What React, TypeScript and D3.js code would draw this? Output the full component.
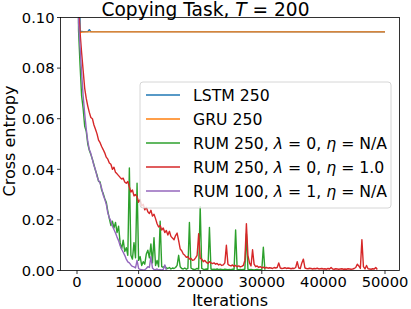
import React from 'react';
import * as d3 from 'd3';

// iterations are logged every 250 steps for the RUM runs
const step = 250;

const lstmIters = [0, 500, 1000, 1750, 2000, 2250, 50000];
const lstmLoss = [0.32, 0.0946, 0.0944, 0.0944, 0.0952, 0.0944, 0.0943];

const gruIters = [0, 400, 750, 1500, 50000];
const gruLoss = [0.32, 0.0938, 0.0942, 0.0943, 0.0943];

const rumGreen = [
  0.32, 0.095, 0.081, 0.069, 0.064, 0.057, 0.055, 0.050, 0.0475, 0.0458,
  0.0440, 0.0418, 0.0395, 0.0378, 0.0352, 0.0350, 0.0318, 0.0305, 0.0285, 0.0270,
  0.0235, 0.0205, 0.0178, 0.0195, 0.0168, 0.0190, 0.0150, 0.0175, 0.0110, 0.0085,
  0.0120, 0.0075, 0.0090, 0.0060, 0.0405, 0.0060, 0.0045, 0.0110, 0.0050, 0.0345,
  0.0040, 0.0055, 0.0020, 0.0035, 0.0025, 0.0065, 0.0080, 0.0050, 0.0105, 0.0030,
  0.0130, 0.0020, 0.0040, 0.0015, 0.0195, 0.0015, 0.0012, 0.0018, 0.0010, 0.0008,
  0.0012, 0.0006, 0.0010, 0.0008, 0.0012, 0.0020, 0.0060, 0.0015, 0.0008, 0.0006,
  0.0010, 0.0005, 0.0008, 0.0190, 0.0010, 0.0006, 0.0004, 0.0005, 0.0008, 0.0006,
  0.0252, 0.0008, 0.0005, 0.0004, 0.0006, 0.0005, 0.0170, 0.0006, 0.0004, 0.0005,
  0.0004, 0.0006, 0.0003, 0.0005, 0.0004, 0.0003, 0.0005, 0.0004, 0.0003, 0.0004,
  0.0003, 0.0005, 0.0004, 0.0160, 0.0004, 0.0003, 0.0004, 0.0003, 0.0004, 0.0005,
  0.0145, 0.0005, 0.0003, 0.0004, 0.0003, 0.0002, 0.0003, 0.0004, 0.0002, 0.0003,
  0.0003, 0.0092, 0.0003,
];

const rumRed = [
  0.32, 0.105, 0.094, 0.086, 0.079, 0.072, 0.068, 0.065, 0.0625, 0.0605,
  0.0600, 0.0575, 0.0558, 0.0540, 0.0515, 0.0505, 0.0490, 0.0478, 0.0465, 0.0448,
  0.0440, 0.0425, 0.0420, 0.0400, 0.0408, 0.0388, 0.0382, 0.0375, 0.0368, 0.0362,
  0.0365, 0.0350, 0.0345, 0.0352, 0.0330, 0.0310, 0.0318, 0.0295, 0.0300, 0.0292,
  0.0270, 0.0280, 0.0255, 0.0262, 0.0240, 0.0250, 0.0232, 0.0225, 0.0238, 0.0215,
  0.0222, 0.0205, 0.0185, 0.0172, 0.0178, 0.0160, 0.0168, 0.0150, 0.0158, 0.0140,
  0.0155, 0.0135, 0.0128, 0.0122, 0.0138, 0.0148, 0.0118, 0.0085, 0.0078, 0.0065,
  0.0060, 0.0052, 0.0055, 0.0045, 0.0048, 0.0040, 0.0042, 0.0050, 0.0060, 0.0145,
  0.0048, 0.0045, 0.0035, 0.0040, 0.0032, 0.0028, 0.0035, 0.0030, 0.0027, 0.0030,
  0.0025, 0.0028, 0.0022, 0.0025, 0.0020, 0.0022, 0.0030, 0.0100, 0.0025, 0.0020,
  0.0018, 0.0022, 0.0016, 0.0020, 0.0015, 0.0018, 0.0014, 0.0016, 0.0020, 0.0040,
  0.0185, 0.0060, 0.0030, 0.0018, 0.0082, 0.0025, 0.0015, 0.0018, 0.0012, 0.0015,
  0.0011, 0.0013, 0.0010, 0.0012, 0.0009, 0.0011, 0.0010, 0.0008, 0.0012, 0.0010,
  0.0012, 0.0030, 0.0010, 0.0008, 0.0009, 0.0011, 0.0008, 0.0010, 0.0009, 0.0007,
  0.0009, 0.0008, 0.0012, 0.0035, 0.0010, 0.0008, 0.0030, 0.0045, 0.0010, 0.0008,
  0.0007, 0.0009, 0.0008, 0.0006, 0.0008, 0.0007, 0.0009, 0.0006, 0.0007, 0.0008,
  0.0006, 0.0007, 0.0005, 0.0008, 0.0006, 0.0012, 0.0006, 0.0005, 0.0007, 0.0006,
  0.0005, 0.0006, 0.0007, 0.0005, 0.0006, 0.0005, 0.0007, 0.0006, 0.0005, 0.0006,
  0.0008, 0.0012, 0.0025, 0.0018, 0.0008, 0.0122, 0.0015, 0.0006, 0.0020, 0.0007,
  0.0006, 0.0005, 0.0007, 0.0006, 0.0012, 0.0004,
];

const rumPurple = [
  0.32, 0.098, 0.088, 0.078, 0.069, 0.062, 0.056, 0.051, 0.0478, 0.0462,
  0.0438, 0.0415, 0.0398, 0.0372, 0.0356, 0.0345, 0.0325, 0.0298, 0.0282, 0.0262,
  0.0228, 0.0208, 0.0196, 0.0175, 0.0162, 0.0148, 0.0132, 0.0118, 0.0098, 0.0084,
  0.0072, 0.0060, 0.0045, 0.0034, 0.0030, 0.0022, 0.0016, 0.0014, 0.0010, 0.0040,
  0.0008, 0.0004, 0.0003, 0.0002, 0.0003, 0.0008, 0.0015, 0.0012, 0.0055, 0.0010,
  0.0004, 0.0003, 0.0006, 0.0002, 0.0003, 0.0002, 0.0004, 0.0022, 0.0002,
];

const xTicks = [0, 10000, 20000, 30000, 40000, 50000];
const yTicks = [0, 0.02, 0.04, 0.06, 0.08, 0.1];

const toPairs = (xs, ys) => ys.map((v, i) => [xs[i], v]);
const stepPairs = (ys) => ys.map((v, i) => [i * step, v]);

const series = [
  { label: ['LSTM 250'], color: '#1f77b4', pts: toPairs(lstmIters, lstmLoss) },
  { label: ['GRU 250'], color: '#ff7f0e', pts: toPairs(gruIters, gruLoss) },
  { label: ['RUM 250, ', 'λ', ' = 0, ', 'η', ' = N/A'], color: '#2ca02c', pts: stepPairs(rumGreen) },
  { label: ['RUM 250, ', 'λ', ' = 0, ', 'η', ' = 1.0'], color: '#d62728', pts: stepPairs(rumRed) },
  { label: ['RUM 100, ', 'λ', ' = 1, ', 'η', ' = N/A'], color: '#9467bd', pts: stepPairs(rumPurple) },
];

export default function App() {
  const W = 411, H = 309;
  const left = 60.5, right = 399.5, top = 17.5, bottom = 270.5;
  const font = 'DejaVu Sans, sans-serif';

  // 0 sits at x=77 and 50000 at x=385 in the original
  const x = d3.scaleLinear().domain([-2679, 52354]).range([left, right]);
  const y = d3.scaleLinear().domain([0, 0.1]).range([bottom, top]);

  const line = d3.line().x(d => x(d[0])).y(d => y(d[1]));

  const lg = { x: 140, y: 82, w: 251, h: 126 };

  return (
    <div style={{ position: 'absolute', left: 0, top: 0 }}>
      <svg width={W} height={H} style={{ display: 'block', background: '#fff' }} fontFamily={font}>
        <defs>
          <clipPath id="plot">
            <rect x={left} y={top} width={right - left} height={bottom - top} />
          </clipPath>
        </defs>

        <g clipPath="url(#plot)">
          {series.map((s, i) => (
            <path key={i} d={line(s.pts)} fill="none" stroke={s.color} strokeWidth={1.4} strokeLinejoin="round" />
          ))}
        </g>

        {/* axes frame */}
        <rect x={left} y={top} width={right - left} height={bottom - top} fill="none" stroke="#000" strokeWidth={0.8} />

        {xTicks.map(t => (
          <g key={t}>
            <line x1={x(t)} x2={x(t)} y1={bottom} y2={bottom + 3.5} stroke="#000" strokeWidth={0.8} />
            <text x={x(t)} y={bottom + 16.5} fontSize={14.7} textAnchor="middle">{t}</text>
          </g>
        ))}
        {yTicks.map(t => (
          <g key={t}>
            <line x1={left - 3.5} x2={left} y1={y(t)} y2={y(t)} stroke="#000" strokeWidth={0.8} />
            <text x={left - 6} y={y(t) + 5.3} fontSize={14.7} textAnchor="end">{d3.format('.2f')(t)}</text>
          </g>
        ))}

        <text x={(left + right) / 2} y={306} fontSize={16} textAnchor="middle">Iterations</text>
        <text transform={`translate(15,141) rotate(-90)`} fontSize={16} textAnchor="middle">Cross entropy</text>

        <text x={205.5} y={15.5} fontSize={18.6} textAnchor="middle">
          Copying Task, <tspan fontStyle="italic">T</tspan> = 200
        </text>

        {/* legend */}
        <rect x={lg.x} y={lg.y} width={lg.w} height={lg.h} rx={3} fill="#fff" fillOpacity={0.8} stroke="#cccccc" strokeWidth={0.8} />
        {series.map((s, i) => {
          const cy = 95 + i * 24;
          return (
            <g key={i}>
              <line x1={146} x2={180} y1={cy} y2={cy} stroke={s.color} strokeWidth={1.4} />
              <text x={193} y={cy + 5.7} fontSize={15.7}>
                {s.label.map((part, j) => (
                  <tspan key={j} fontStyle={part === 'λ' || part === 'η' ? 'italic' : 'normal'}>{part}</tspan>
                ))}
              </text>
            </g>
          );
        })}
      </svg>
    </div>
  );
}
